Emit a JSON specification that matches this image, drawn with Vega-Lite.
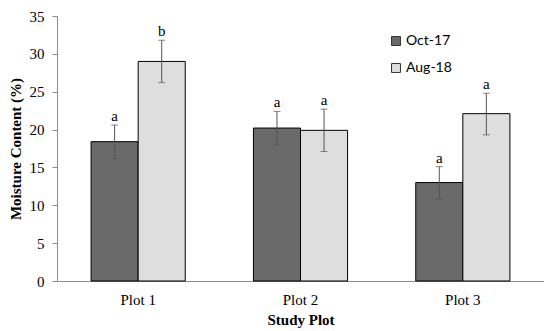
{
  "$schema": "https://vega.github.io/schema/vega-lite/v6.json",
  "autosize": {"type": "none"},
  "width": 487,
  "height": 265,
  "padding": {"left": 57, "top": 16, "right": 0, "bottom": 50},
  "background": "white",
  "config": {
    "view": {"stroke": null},
    "axisY": {
      "grid": false, "domainColor": "#8c8c8c", "tickColor": "#8c8c8c", "tickSize": 5,
      "labelOverlap": false, "labelFlush": false,
      "labelPadding": 8, "labelFont": "Liberation Serif", "labelFontSize": 15, "labelColor": "black",
      "titleFont": "Liberation Serif", "titleFontSize": 15, "titleFontWeight": "bold",
      "titleColor": "black", "titlePadding": 6
    }
  },
  "data": {"values": [
    {"plot": "Plot 1", "season": "Oct-17", "mean": 18.4, "lo": 16.2, "hi": 20.6, "sig": "a"},
    {"plot": "Plot 1", "season": "Aug-18", "mean": 29.0, "lo": 26.2, "hi": 31.8, "sig": "b"},
    {"plot": "Plot 2", "season": "Oct-17", "mean": 20.2, "lo": 18.0, "hi": 22.4, "sig": "a"},
    {"plot": "Plot 2", "season": "Aug-18", "mean": 19.9, "lo": 17.1, "hi": 22.7, "sig": "a"},
    {"plot": "Plot 3", "season": "Oct-17", "mean": 13.0, "lo": 10.8, "hi": 15.1, "sig": "a"},
    {"plot": "Plot 3", "season": "Aug-18", "mean": 22.1, "lo": 19.3, "hi": 24.8, "sig": "a"}
  ]},
  "encoding": {
    "x": {
      "field": "plot", "type": "nominal",
      "scale": {"paddingInner": 0.42, "paddingOuter": 0.21},
      "axis": {
        "title": "Study Plot", "labelAngle": 0, "ticks": false,
        "domainColor": "#8c8c8c", "labelPadding": 11,
        "labelFont": "Liberation Serif", "labelFontSize": 15, "labelColor": "black",
        "titleFont": "Liberation Serif", "titleFontSize": 15, "titleFontWeight": "bold",
        "titleColor": "black", "titlePadding": 5
      }
    },
    "xOffset": {"field": "season", "type": "nominal", "sort": ["Oct-17", "Aug-18"], "scale": {"paddingInner": 0, "paddingOuter": 0}}
  },
  "layer": [
    {
      "mark": {"type": "bar", "stroke": "black", "strokeWidth": 1},
      "encoding": {
        "y": {
          "field": "mean", "type": "quantitative",
          "scale": {"domain": [0, 35], "nice": false},
          "axis": {"title": "Moisture Content (%)", "values": [0, 5, 10, 15, 20, 25, 30, 35]}
        },
        "fill": {
          "field": "season", "type": "nominal", "sort": ["Oct-17", "Aug-18"],
          "scale": {"range": ["#6a6a6a", "#dedede"]},
          "legend": {
            "title": null, "orient": "none", "legendX": 332, "legendY": 18,
            "symbolType": "square", "symbolSize": 80, "symbolStrokeColor": "#333",
            "symbolStrokeWidth": 1, "rowPadding": 13, "labelFont": "Lato",
            "labelFontSize": 14, "labelColor": "black", "labelOffset": 3
          }
        }
      }
    },
    {
      "mark": {"type": "rule", "color": "#555", "strokeWidth": 1},
      "encoding": {
        "y": {"field": "lo", "type": "quantitative", "axis": {"title": "Moisture Content (%)", "values": [0, 5, 10, 15, 20, 25, 30, 35]}},
        "y2": {"field": "hi"}
      }
    },
    {
      "mark": {"type": "tick", "color": "#555", "orient": "horizontal", "size": 7, "thickness": 1},
      "encoding": {"y": {"field": "lo", "type": "quantitative", "axis": {"title": "Moisture Content (%)", "values": [0, 5, 10, 15, 20, 25, 30, 35]}}}
    },
    {
      "mark": {"type": "tick", "color": "#555", "orient": "horizontal", "size": 7, "thickness": 1},
      "encoding": {"y": {"field": "hi", "type": "quantitative", "axis": {"title": "Moisture Content (%)", "values": [0, 5, 10, 15, 20, 25, 30, 35]}}}
    },
    {
      "mark": {"type": "text", "dy": -4, "baseline": "alphabetic", "font": "Liberation Serif", "fontSize": 15, "color": "black"},
      "encoding": {
        "y": {"field": "hi", "type": "quantitative", "axis": {"title": "Moisture Content (%)", "values": [0, 5, 10, 15, 20, 25, 30, 35]}},
        "text": {"field": "sig"}
      }
    }
  ]
}
